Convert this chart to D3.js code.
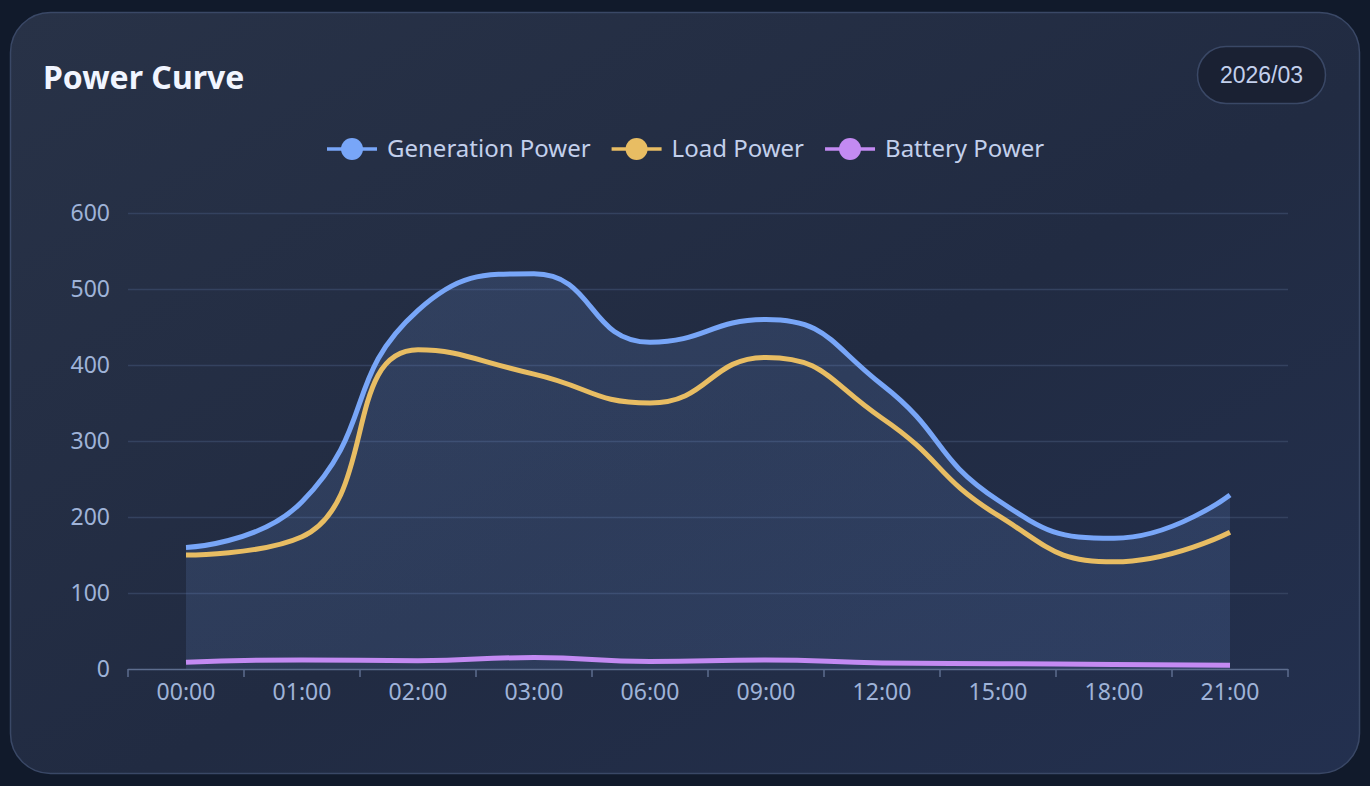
<!DOCTYPE html>
<html>
<head>
<meta charset="utf-8">
<script src="https://cdn.jsdelivr.net/npm/d3@7"></script>
<style>
  html, body { margin: 0; padding: 0; background: #111a2b; }
  #chart { width: 1370px; height: 786px; }
  text { font-family: "Noto Sans", "Open Sans", sans-serif; }
</style>
</head>
<body>
<div id="chart"></div>
<script>
// data
var hours = ["00:00", "01:00", "02:00", "03:00", "06:00", "09:00", "12:00", "15:00", "18:00", "21:00"];
var generationPower = [160, 220, 472, 520, 430, 460, 374, 222, 172, 229];
var loadPower = [150, 174, 420, 388, 350, 410, 330, 202, 141, 180];
var batteryPower = [9, 12, 11, 15, 10, 12, 8, 7, 6, 5];
var yTicks = [0, 100, 200, 300, 400, 500, 600];

var seriesList = [
  { name: "Generation Power", values: generationPower, color: "#78a6f8" },
  { name: "Load Power", values: loadPower, color: "#e8bd63" },
  { name: "Battery Power", values: batteryPower, color: "#c38af2" }
];

var W = 1370, H = 786;
var svg = d3.select("#chart").append("svg").attr("width", W).attr("height", H);

// card background
var defs = svg.append("defs");
var grad = defs.append("linearGradient").attr("id", "cardBg")
  .attr("x1", "0%").attr("y1", "0%").attr("x2", "100%").attr("y2", "100%");
grad.append("stop").attr("offset", "0%").attr("stop-color", "#283247");
grad.append("stop").attr("offset", "55%").attr("stop-color", "#212b42");
grad.append("stop").attr("offset", "100%").attr("stop-color", "#23304f");

var areaGrad = defs.append("linearGradient").attr("id", "areaFill")
  .attr("x1", "0").attr("y1", "0").attr("x2", "0").attr("y2", "1");
areaGrad.append("stop").attr("offset", "0%").attr("stop-color", "#7098e0").attr("stop-opacity", 0.17);
areaGrad.append("stop").attr("offset", "100%").attr("stop-color", "#7098e0").attr("stop-opacity", 0.15);

svg.append("rect")
  .attr("x", 10.5).attr("y", 12.5).attr("width", 1349).attr("height", 761)
  .attr("rx", 40).attr("ry", 40)
  .attr("fill", "url(#cardBg)")
  .attr("stroke", "#3a4866").attr("stroke-width", 1.5);

// title
svg.append("text")
  .attr("x", 43).attr("y", 89)
  .attr("fill", "#f1f5ff")
  .style("font-size", "32px").style("font-weight", "700")
  .text("Power Curve");

// date badge
svg.append("rect")
  .attr("x", 1197.5).attr("y", 46.5).attr("width", 128).attr("height", 57)
  .attr("rx", 28.5)
  .attr("fill", "#1a2133").attr("stroke", "#3a4866").attr("stroke-width", 1.5);
svg.append("text")
  .attr("x", 1261.5).attr("y", 83)
  .attr("text-anchor", "middle")
  .attr("fill", "#c3d0ec")
  .style("font-family", "'Liberation Sans', Arial, sans-serif")
  .style("font-size", "23px")
  .text("2026/03");

// scales
var margin = { left: 128, right: 1288, top: 213, bottom: 669 };
var xScale = d3.scaleBand().domain(hours).range([margin.left, margin.right]);
var yScale = d3.scaleLinear().domain([0, 600]).range([margin.bottom, margin.top]);
function toPoints(values) {
  return values.map(function(v, i) {
    return [xScale(hours[i]) + xScale.bandwidth() / 2, yScale(v)];
  });
}

// echarts-like smoothing (smooth = 0.5, control points clamped between neighbours)
function smoothPath(pts, smooth) {
  var p = d3.path();
  var clamp = function(v, a, b) { return Math.min(Math.max(v, Math.min(a, b)), Math.max(a, b)); };
  var cpx0 = pts[0][0], cpy0 = pts[0][1];
  p.moveTo(pts[0][0], pts[0][1]);
  for (var i = 1; i < pts.length; i++) {
    var x = pts[i][0], y = pts[i][1];
    var prev = pts[i - 1], next = pts[i + 1] || pts[i];
    var cpx1 = x, cpy1 = y, ncx = x, ncy = y;
    if (i < pts.length - 1) {
      var vx = next[0] - prev[0], vy = next[1] - prev[1];
      var lp = Math.hypot(x - prev[0], y - prev[1]);
      var ln = Math.hypot(next[0] - x, next[1] - y);
      var r = ln / (ln + lp);
      ncx = clamp(x + vx * smooth * r, x, next[0]);
      ncy = clamp(y + vy * smooth * r, y, next[1]);
      vx = ncx - x; vy = ncy - y;
      cpx1 = clamp(x - vx * lp / ln, prev[0], x);
      cpy1 = clamp(y - vy * lp / ln, prev[1], y);
      vx = x - cpx1; vy = y - cpy1;
      ncx = x + vx * ln / lp;
      ncy = y + vy * ln / lp;
    }
    p.bezierCurveTo(cpx0, cpy0, cpx1, cpy1, x, y);
    cpx0 = ncx; cpy0 = ncy;
  }
  return p.toString();
}

// grid lines
svg.append("g").selectAll("line")
  .data(yTicks.filter(function(d) { return d > 0; }))
  .enter().append("line")
  .attr("x1", margin.left).attr("x2", margin.right)
  .attr("y1", function(d) { return yScale(d) + 0.5; })
  .attr("y2", function(d) { return yScale(d) + 0.5; })
  .attr("stroke", "#34425f").attr("stroke-width", 1.5);

// y labels
svg.append("g").selectAll("text")
  .data(yTicks)
  .enter().append("text")
  .attr("x", 110)
  .attr("y", function(d) { return yScale(d) + 8; })
  .attr("text-anchor", "end")
  .attr("fill", "#9fb3d8")
  .style("font-size", "23px")
  .text(function(d) { return d; });

// x axis
var xAxis = d3.axisBottom(xScale).tickSize(0).tickPadding(14);
var xAxisGroup = svg.append("g")
  .attr("class", "x axis")
  .attr("transform", "translate(0," + (margin.bottom + 0.5) + ")")
  .call(xAxis);
xAxisGroup.select(".domain").remove();
xAxisGroup.selectAll("text")
  .attr("fill", "#9fb3d8")
  .style("font-size", "23px")
  .style("font-family", "'Noto Sans', sans-serif");

// area for generation
var genPts = toPoints(generationPower);
svg.append("path")
  .attr("d", smoothPath(genPts, 0.5) +
    "L" + genPts[genPts.length - 1][0] + "," + yScale(0) +
    "L" + genPts[0][0] + "," + yScale(0) + "Z")
  .attr("fill", "url(#areaFill)");

// axis line and boundary ticks
svg.append("line")
  .attr("x1", margin.left).attr("x2", margin.right)
  .attr("y1", margin.bottom + 0.5).attr("y2", margin.bottom + 0.5)
  .attr("stroke", "#5d6d8e").attr("stroke-width", 1.5);
var bounds = hours.map(function(h) { return xScale(h); }).concat([margin.right]);
svg.append("g").selectAll("line")
  .data(bounds)
  .enter().append("line")
  .attr("x1", function(d) { return d; }).attr("x2", function(d) { return d; })
  .attr("y1", margin.bottom).attr("y2", margin.bottom + 8)
  .attr("stroke", "#5d6d8e").attr("stroke-width", 1.5);

// lines
seriesList.forEach(function(s) {
  svg.append("path")
    .attr("d", smoothPath(toPoints(s.values), 0.5))
    .attr("fill", "none")
    .attr("stroke", s.color)
    .attr("stroke-width", 5)
    .attr("stroke-linejoin", "round");
});

// legend
var legend = svg.append("g").attr("class", "legend");
var lx = 0;
seriesList.forEach(function(s) {
  var g = legend.append("g").attr("transform", "translate(" + lx + ",0)");
  g.append("line").attr("x1", 0).attr("x2", 50).attr("y1", 0).attr("y2", 0)
    .attr("stroke", s.color).attr("stroke-width", 3.5);
  g.append("circle").attr("cx", 25).attr("cy", 0).attr("r", 11).attr("fill", s.color);
  var t = g.append("text").attr("x", 60).attr("y", 8)
    .attr("fill", "#c3d0ec")
    .style("font-size", "24px")
    .text(s.name);
  lx += 60 + t.node().getComputedTextLength() + 21;
});
var legendWidth = lx - 21;
legend.attr("transform", "translate(" + Math.round(686 - legendWidth / 2) + ",149)");
</script>
</body>
</html>
